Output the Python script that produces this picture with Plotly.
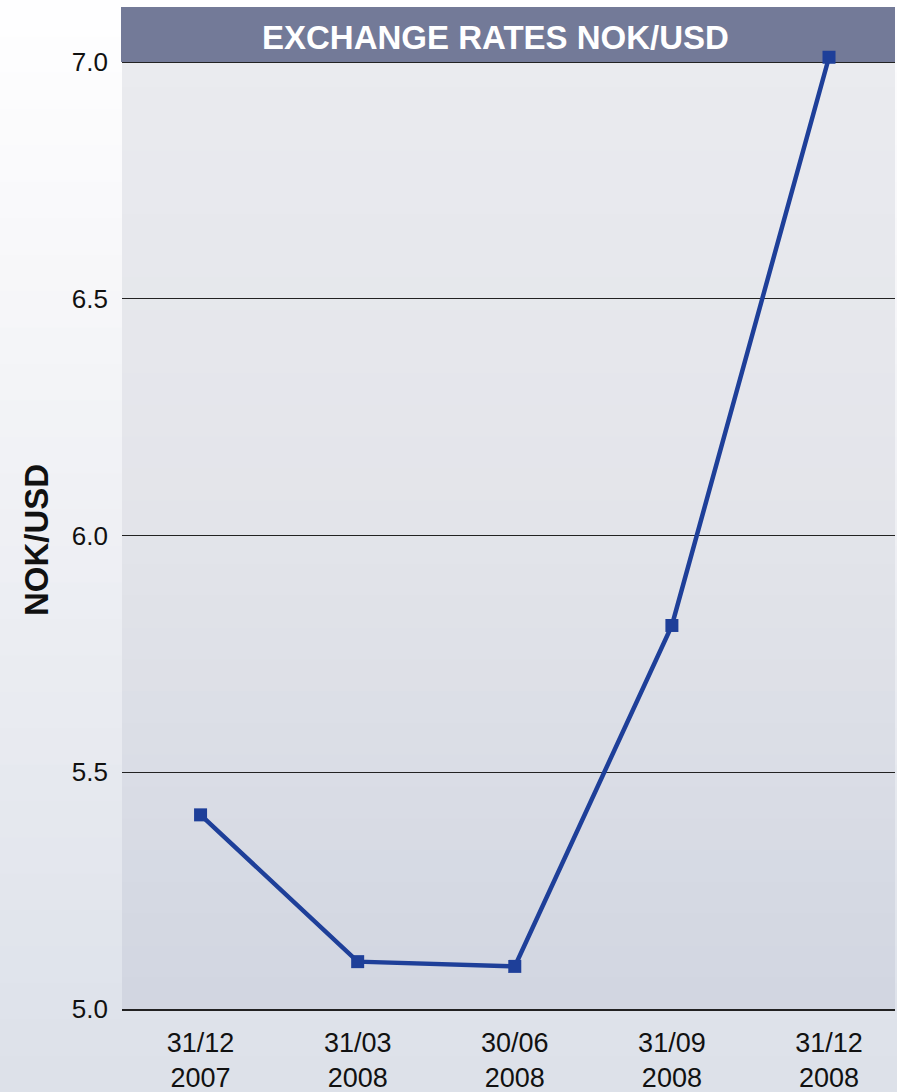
import plotly.graph_objects as go
import numpy as np

# ---- data ----
dates = ["31/12<br>2007", "31/03<br>2008", "30/06<br>2008", "31/09<br>2008", "31/12<br>2008"]
nok_usd = [5.41, 5.10, 5.09, 5.81, 7.01]
y_ticks = [5.0, 5.5, 6.0, 6.5, 7.0]
y_tick_text = ["5.0", "5.5", "6.0", "6.5", "7.0"]
title_text = "EXCHANGE RATES NOK/USD"
y_title = "NOK/USD"

W, H = 897, 1092
ml, mr, mt, mb = 122, 2, 55, 83
pw, ph = W - ml - mr, H - mt - mb
# 5.0 at pixel 1009, 7.0 at pixel 62
px_per_unit = (1009 - 62) / 2.0
y_top = 5.0 + ph / px_per_unit

def px_x(p):
    return (p - ml) / pw

def px_y(p):
    return (H - mb - p) / ph

def lerp_col(c1, c2, t):
    a = np.array(c1, float); b = np.array(c2, float)
    c = a + (b - a) * t
    return "rgb(%d,%d,%d)" % tuple(np.round(c).astype(int))

shapes = []
# paper background gradient (white top -> light grey-blue bottom)
n = 30
for i in range(n):
    t0, t1 = i / n, (i + 1) / n
    y0p = t0 * H
    y1p = t1 * H + 1
    tm = (t0 + t1) / 2
    if tm < 0.45:
        col = lerp_col((255, 255, 255), (240, 241, 245), tm / 0.45)
    else:
        col = lerp_col((240, 241, 245), (220, 224, 233), (tm - 0.45) / 0.55)
    shapes.append(dict(type="rect", xref="paper", yref="paper",
                       x0=px_x(0), x1=px_x(W), y0=px_y(y1p), y1=px_y(y0p),
                       fillcolor=col, line=dict(width=0), layer="below"))
# plot area gradient
for i in range(n):
    t0, t1 = i / n, (i + 1) / n
    tm = (t0 + t1) / 2
    if tm < 0.5:
        col = lerp_col((234, 235, 239), (227, 228, 234), tm / 0.5)
    else:
        col = lerp_col((227, 228, 234), (209, 214, 225), (tm - 0.5) / 0.5)
    shapes.append(dict(type="rect", xref="paper", yref="paper",
                       x0=0, x1=1, y0=1 - t1 - 0.001, y1=1 - t0,
                       fillcolor=col, line=dict(width=0), layer="below"))
# title bar
shapes.append(dict(type="rect", xref="paper", yref="paper",
                   x0=px_x(121), x1=px_x(895), y0=px_y(62), y1=px_y(7),
                   fillcolor="#737a98", line=dict(width=0), layer="below"))

fig = go.Figure()
fig.add_trace(go.Scatter(
    x=dates, y=nok_usd, mode="lines+markers",
    line=dict(color="#1e3f99", width=4.5),
    marker=dict(symbol="square", size=13, color="#1e3f99"),
    cliponaxis=False, showlegend=False,
))

fig.update_layout(
    width=W, height=H,
    margin=dict(l=ml, r=mr, t=mt, b=mb, pad=0),
    paper_bgcolor="#ffffff",
    plot_bgcolor="#e4e5ea",
    font=dict(family="Liberation Sans, Arial, sans-serif", color="#111111"),
    shapes=shapes,
    xaxis=dict(
        type="category", range=[-0.5, 4.42], automargin=False,
        showgrid=False, zeroline=False,
        showline=True, linecolor="#222222", linewidth=1.5,
        ticks="", ticklabelstandoff=9,
        tickfont=dict(size=27, color="#111111"),
    ),
    yaxis=dict(
        range=[5.0, y_top], tickvals=y_ticks, ticktext=y_tick_text,
        automargin=False,
        showgrid=True, gridcolor="#222222", gridwidth=1.2,
        zeroline=False, showline=False,
        ticks="", ticklabelstandoff=13,
        tickfont=dict(size=26, color="#111111"),
    ),
    annotations=[
        dict(text="<b>" + title_text + "</b>", xref="paper", yref="paper",
             x=px_x(495), y=px_y(37.5), xanchor="center", yanchor="middle",
             showarrow=False, font=dict(size=33, color="#ffffff")),
        dict(text="<b>" + y_title + "</b>", xref="paper", yref="paper",
             x=px_x(36), y=px_y(540), xanchor="center", yanchor="middle",
             textangle=-90, showarrow=False, font=dict(size=33, color="#111111")),
    ],
)

fig.write_html("out.html")
